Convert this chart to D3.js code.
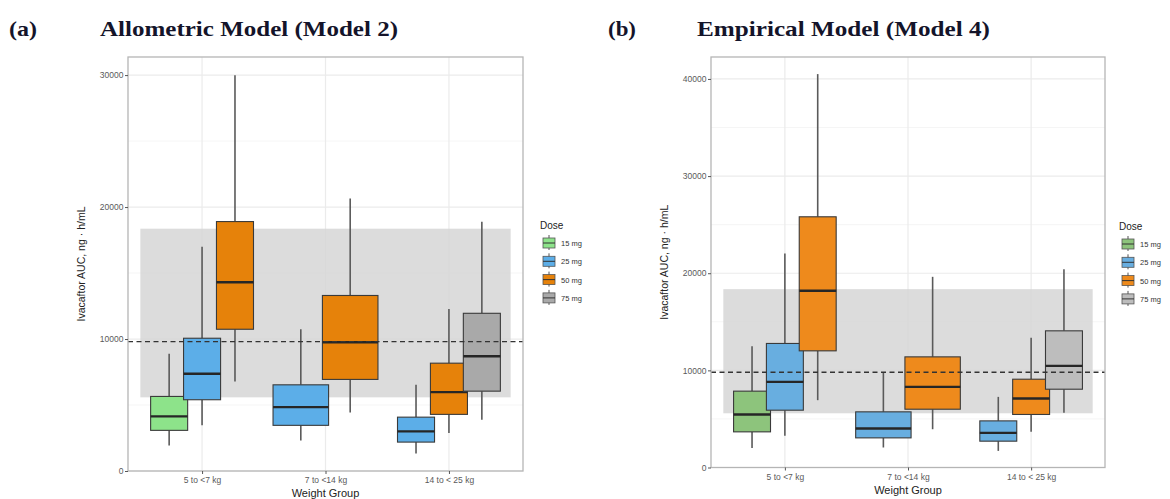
<!DOCTYPE html>
<html>
<head>
<meta charset="utf-8">
<script src="https://cdn.jsdelivr.net/npm/d3@7"></script>
<style>
  body { margin: 0; background: #fff; }
  svg text { font-family: "Liberation Sans", Arial, sans-serif; }
  .title { font-family: "Liberation Serif", "Times New Roman", serif !important; font-weight: bold; }
</style>
</head>
<body>
<div class="chart"></div>
<script>
// categories and legend
const weightGroups = ['5 to <7 kg', '7 to <14 kg', '14 to < 25 kg']
const doses = ['15 mg', '25 mg', '50 mg', '75 mg']

// [group, dose, whisker low, q1, median, q3, whisker high]
const allometricBoxes = [
    ['5 to <7 kg', '15 mg', 1940, 3080, 4140, 5650, 8880],
    ['5 to <7 kg', '25 mg', 3460, 5400, 7370, 10060, 17000],
    ['5 to <7 kg', '50 mg', 6790, 10740, 14300, 18900, 29980],
    ['7 to <14 kg', '25 mg', 2320, 3460, 4840, 6530, 10740],
    ['7 to <14 kg', '50 mg', 4440, 6940, 9760, 13300, 20650],
    ['14 to < 25 kg', '25 mg', 1320, 2190, 3000, 4080, 6530],
    ['14 to < 25 kg', '50 mg', 2880, 4290, 5980, 8170, 12280],
    ['14 to < 25 kg', '75 mg', 3890, 6050, 8700, 11950, 18890]
]
const empiricalBoxes = [
    ['5 to <7 kg', '15 mg', 2020, 3670, 5460, 7860, 12490],
    ['5 to <7 kg', '25 mg', 3260, 5900, 8820, 12770, 22040],
    ['5 to <7 kg', '50 mg', 6930, 12010, 18190, 25810, 40500],
    ['7 to <14 kg', '25 mg', 2060, 3050, 4010, 5730, 9780],
    ['7 to <14 kg', '50 mg', 3940, 6000, 8300, 11390, 19630],
    ['14 to < 25 kg', '25 mg', 1710, 2710, 3560, 4800, 7270],
    ['14 to < 25 kg', '50 mg', 3670, 5460, 7100, 9090, 13350],
    ['14 to < 25 kg', '75 mg', 5630, 8060, 10460, 14070, 20420]
]

// target exposure range and reference line
const targetRange = [5580, 18360]
const targetLine = 9800

const allometricTicks = [0, 10000, 20000, 30000]
const empiricalTicks = [0, 10000, 20000, 30000, 40000]

const svg = d3.select('.chart').append('svg')
    .attr('width', 1170)
    .attr('height', 499)

function drawPanel(opt) {
    const g = svg.append('g')
    const x = d3.scalePoint()
        .domain(weightGroups)
        .range([opt.left, opt.right])
        .padding(0.6)
    const step = x.step()
    const y = d3.scaleLinear()
        .domain([0, opt.yMax])
        .range([opt.bottom, opt.top])

    // titles
    svg.append('text').attr('class', 'title')
        .attr('x', opt.tagX).attr('y', 36)
        .attr('textLength', 28).attr('lengthAdjust', 'spacingAndGlyphs')
        .style('font-size', '22px').style('fill', '#14142a')
        .text(opt.tag)
    svg.append('text').attr('class', 'title')
        .attr('x', opt.titleX).attr('y', 36)
        .attr('textLength', opt.titleW).attr('lengthAdjust', 'spacingAndGlyphs')
        .style('font-size', '22px').style('fill', '#14142a')
        .text(opt.title)

    // panel background + grid
    g.append('rect')
        .attr('x', opt.left).attr('y', opt.top)
        .attr('width', opt.right - opt.left).attr('height', opt.bottom - opt.top)
        .style('fill', '#fff')

    const minor = opt.ticks.map(t => t + 5000).filter(t => t < opt.yMax)
    g.selectAll('.minor').data(minor).enter().append('line')
        .attr('x1', opt.left).attr('x2', opt.right)
        .attr('y1', d => y(d)).attr('y2', d => y(d))
        .style('stroke', '#f2f2f2').style('stroke-width', 0.8)
    g.selectAll('.major').data(opt.ticks).enter().append('line')
        .attr('x1', opt.left).attr('x2', opt.right)
        .attr('y1', d => y(d)).attr('y2', d => y(d))
        .style('stroke', '#ebebeb').style('stroke-width', 1.2)
    g.selectAll('.vgrid').data(weightGroups).enter().append('line')
        .attr('x1', d => x(d)).attr('x2', d => x(d))
        .attr('y1', opt.top).attr('y2', opt.bottom)
        .style('stroke', '#ebebeb').style('stroke-width', 1.2)

    // target band
    g.append('rect')
        .attr('x', x(weightGroups[0]) - step / 2)
        .attr('width', x(weightGroups[2]) - x(weightGroups[0]) + step)
        .attr('y', y(targetRange[1]))
        .attr('height', y(targetRange[0]) - y(targetRange[1]))
        .style('fill', '#d4d4d4').style('opacity', 0.82)

    // boxes, dodged within each weight group
    opt.boxes.forEach(b => {
        const members = opt.boxes.filter(o => o[0] === b[0])
        const n = members.length
        const i = members.indexOf(b)
        const cx = x(b[0]) + (i - (n - 1) / 2) * step * 0.8 / n
        const w = step * 0.9 / n
        const bg = g.append('g')
        bg.append('line')
            .attr('x1', cx).attr('x2', cx)
            .attr('y1', y(b[6])).attr('y2', y(b[5]))
            .style('stroke', '#5a5a5a').style('stroke-width', 1.6)
        bg.append('line')
            .attr('x1', cx).attr('x2', cx)
            .attr('y1', y(b[3])).attr('y2', y(b[2]))
            .style('stroke', '#5a5a5a').style('stroke-width', 1.6)
        bg.append('rect')
            .attr('x', cx - w / 2).attr('width', w)
            .attr('y', y(b[5])).attr('height', y(b[3]) - y(b[5]))
            .style('fill', opt.colours[b[1]])
            .style('stroke', '#3a3a3a').style('stroke-width', 1.1)
        bg.append('line')
            .attr('x1', cx - w / 2).attr('x2', cx + w / 2)
            .attr('y1', y(b[4])).attr('y2', y(b[4]))
            .style('stroke', '#262626').style('stroke-width', 2.4)
    })

    // reference line
    g.append('line')
        .attr('x1', opt.left).attr('x2', opt.right)
        .attr('y1', y(targetLine)).attr('y2', y(targetLine))
        .style('stroke', '#333').style('stroke-width', 1.4)
        .style('stroke-dasharray', '5,3.5')

    // border
    g.append('rect')
        .attr('x', opt.left).attr('y', opt.top)
        .attr('width', opt.right - opt.left).attr('height', opt.bottom - opt.top)
        .style('fill', 'none').style('stroke', '#b5b5b5').style('stroke-width', 1.3)

    // axes
    const yAxis = g.append('g')
        .attr('transform', `translate(${opt.left},0)`)
        .call(d3.axisLeft(y).tickValues(opt.ticks).tickFormat(d3.format('d')).tickSize(3).tickPadding(1.5))
    const xAxis = g.append('g')
        .attr('transform', `translate(0,${opt.bottom})`)
        .call(d3.axisBottom(x).tickSize(3).tickPadding(3))
    ;[yAxis, xAxis].forEach(a => {
        a.select('.domain').remove()
        a.selectAll('.tick line').style('stroke', '#555')
        a.selectAll('.tick text').style('fill', '#5a5a5a').style('font-size', '8.5px')
    })

    g.append('text')
        .attr('x', (opt.left + opt.right) / 2).attr('y', opt.bottom + 26)
        .attr('text-anchor', 'middle')
        .style('font-size', '11px').style('fill', '#222')
        .text('Weight Group')
    g.append('text')
        .attr('transform', `translate(${opt.left - 43},${(opt.top + opt.bottom) / 2}) rotate(-90)`)
        .attr('text-anchor', 'middle')
        .style('font-size', '10.5px').style('fill', '#222')
        .text('Ivacaftor AUC, ng · h/mL')

    // legend
    const lg = svg.append('g').attr('transform', `translate(${opt.legendX},${opt.legendY})`)
    lg.append('text').attr('x', 0).attr('y', 0)
        .style('font-size', '10px').style('fill', '#222')
        .text('Dose')
    doses.forEach((d, i) => {
        const ky = 8 + i * 18.3
        lg.append('line').attr('x1', 9).attr('x2', 9).attr('y1', ky - 2).attr('y2', ky + 13)
            .style('stroke', '#555').style('stroke-width', 1)
        lg.append('rect').attr('x', 3).attr('y', ky + 1).attr('width', 12).attr('height', 10)
            .style('fill', opt.colours[d]).style('stroke', '#555').style('stroke-width', 0.8)
        lg.append('line').attr('x1', 3).attr('x2', 15).attr('y1', ky + 6).attr('y2', ky + 6)
            .style('stroke', '#333').style('stroke-width', 1)
        lg.append('text').attr('x', 21).attr('y', ky + 9)
            .style('font-size', '7.5px').style('fill', '#333')
            .text(d)
    })
}

drawPanel({
    tag: '(a)', tagX: 9, title: 'Allometric Model (Model 2)', titleX: 100, titleW: 298,
    left: 128, right: 523, top: 57, bottom: 471, yMax: 31370,
    ticks: allometricTicks, boxes: allometricBoxes,
    legendX: 540, legendY: 229,
    colours: { '15 mg': '#8de38a', '25 mg': '#5caee8', '50 mg': '#e6820a', '75 mg': '#a9a9a9' }
})

drawPanel({
    tag: '(b)', tagX: 608, title: 'Empirical Model (Model 4)', titleX: 697, titleW: 293,
    left: 711, right: 1105, top: 57, bottom: 467.5, yMax: 42260,
    ticks: empiricalTicks, boxes: empiricalBoxes,
    legendX: 1119, legendY: 230,
    colours: { '15 mg': '#8dc47c', '25 mg': '#68aee0', '50 mg': '#ee8a1c', '75 mg': '#bdbdbd' }
})
</script>
</body>
</html>
